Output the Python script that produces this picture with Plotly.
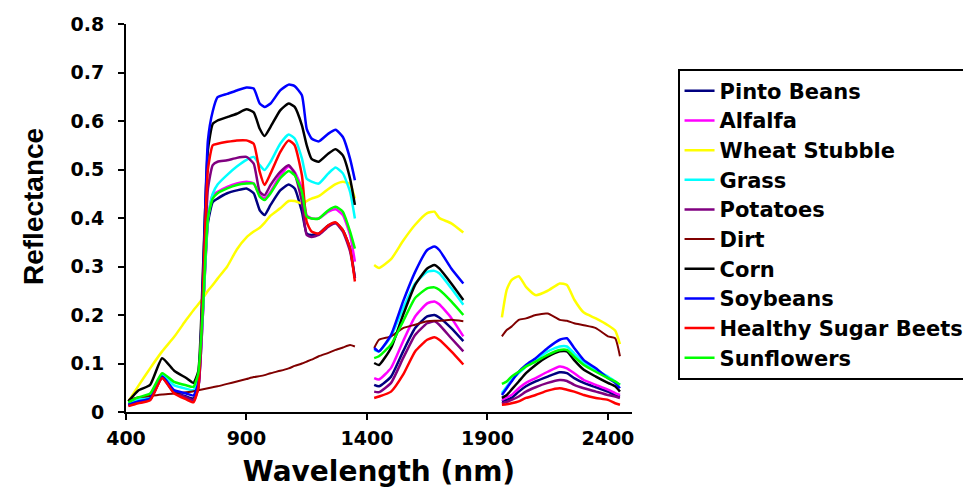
import plotly.graph_objects as go

# wavelength grids (nm) for the three spectral segments
W1 = [410, 450, 500, 550, 600, 650, 680, 700, 720, 740, 760, 780, 820, 860, 900, 930, 955, 975,
      1000, 1040, 1075, 1100, 1130, 1150, 1170, 1200, 1240, 1270, 1300, 1330, 1350]
W2 = [1430, 1450, 1500, 1550, 1600, 1650, 1680, 1700, 1750, 1800]
W3 = [1960, 1980, 2000, 2030, 2060, 2100, 2150, 2200, 2230, 2260, 2300, 2350, 2400, 2430, 2450]

names = ["Pinto Beans", "Alfalfa", "Wheat Stubble", "Grass", "Potatoes", "Dirt", "Corn",
         "Soybeans", "Healthy Sugar Beets", "Sunflowers"]
colors = ["#000080", "#FF00FF", "#FFFF00", "#00FFFF", "#800080", "#800000", "#000000",
          "#0000FF", "#FF0000", "#00FF00"]

pinto_s1 = [0.015, 0.021, 0.027, 0.073, 0.042, 0.032, 0.028, 0.05, 0.21, 0.39, 0.433, 0.440, 0.451, 0.457,
            0.461, 0.451, 0.416, 0.406, 0.427, 0.457, 0.469, 0.461, 0.413, 0.368, 0.365, 0.368, 0.385,
            0.390, 0.375, 0.337, 0.276]
pinto_s2 = [0.056, 0.053, 0.073, 0.125, 0.173, 0.197, 0.200, 0.195, 0.173, 0.146]
pinto_s3 = [0.022, 0.025, 0.029, 0.042, 0.053, 0.063, 0.073, 0.082, 0.080, 0.070, 0.060, 0.051, 0.042,
            0.035, 0.032]

alfalfa_s1 = [0.013, 0.019, 0.025, 0.072, 0.040, 0.028, 0.022, 0.05, 0.21, 0.40, 0.448, 0.454, 0.464, 0.471,
              0.475, 0.471, 0.447, 0.441, 0.454, 0.488, 0.506, 0.495, 0.461, 0.406, 0.399, 0.399, 0.413,
              0.418, 0.406, 0.365, 0.310]
alfalfa_s2 = [0.070, 0.067, 0.091, 0.146, 0.197, 0.224, 0.228, 0.222, 0.194, 0.156]
alfalfa_s3 = [0.025, 0.030, 0.035, 0.049, 0.060, 0.070, 0.083, 0.094, 0.090, 0.080, 0.066, 0.056, 0.046,
              0.039, 0.035]

wheat_s1 = [0.022, 0.053, 0.09, 0.125, 0.155, 0.19, 0.21, 0.222, 0.235, 0.25, 0.262, 0.275, 0.30, 0.335,
            0.36, 0.372, 0.38, 0.39, 0.405, 0.42, 0.435, 0.435, 0.43, 0.435, 0.44, 0.445, 0.46, 0.47,
            0.475, 0.47, 0.44]
wheat_s2 = [0.303, 0.297, 0.315, 0.353, 0.386, 0.410, 0.413, 0.400, 0.389, 0.370]
wheat_s3 = [0.195, 0.252, 0.272, 0.280, 0.258, 0.241, 0.250, 0.265, 0.262, 0.232, 0.205, 0.193, 0.179,
            0.168, 0.14]

grass_s1 = [0.018, 0.025, 0.032, 0.077, 0.055, 0.048, 0.045, 0.07, 0.22, 0.40, 0.45, 0.469, 0.489, 0.506,
            0.520, 0.526, 0.509, 0.499, 0.516, 0.553, 0.572, 0.564, 0.523, 0.481, 0.475, 0.471, 0.492,
            0.504, 0.492, 0.454, 0.399]
grass_s2 = [0.128, 0.125, 0.156, 0.214, 0.265, 0.289, 0.291, 0.286, 0.255, 0.221]
grass_s3 = [0.039, 0.052, 0.066, 0.080, 0.094, 0.107, 0.125, 0.135, 0.135, 0.121, 0.101, 0.087, 0.073,
            0.063, 0.056]

potatoes_s1 = [0.014, 0.020, 0.026, 0.070, 0.040, 0.030, 0.025, 0.05, 0.24, 0.46, 0.509, 0.516, 0.519,
               0.524, 0.526, 0.512, 0.454, 0.447, 0.468, 0.495, 0.509, 0.492, 0.434, 0.365, 0.361, 0.365,
               0.382, 0.389, 0.372, 0.331, 0.276]
potatoes_s2 = [0.042, 0.041, 0.060, 0.111, 0.159, 0.183, 0.187, 0.180, 0.152, 0.125]
potatoes_s3 = [0.018, 0.021, 0.025, 0.032, 0.042, 0.051, 0.060, 0.066, 0.064, 0.056, 0.049, 0.042, 0.035,
               0.032, 0.029]

dirt_s1 = [0.025, 0.030, 0.033, 0.036, 0.038, 0.041, 0.043, 0.045, 0.047, 0.049, 0.051, 0.053, 0.058,
           0.063, 0.068, 0.072, 0.074, 0.076, 0.080, 0.085, 0.090, 0.095, 0.100, 0.104, 0.108, 0.115,
           0.122, 0.128, 0.133, 0.138, 0.135]
dirt_s2 = [0.132, 0.149, 0.156, 0.173, 0.180, 0.187, 0.188, 0.188, 0.190, 0.187]
dirt_s3 = [0.156, 0.169, 0.176, 0.190, 0.193, 0.200, 0.203, 0.190, 0.188, 0.183, 0.179, 0.173, 0.156,
           0.152, 0.115]

corn_s1 = [0.022, 0.044, 0.056, 0.111, 0.085, 0.070, 0.060, 0.084, 0.30, 0.54, 0.594, 0.601, 0.608, 0.615,
           0.624, 0.618, 0.584, 0.569, 0.588, 0.622, 0.636, 0.629, 0.591, 0.550, 0.522, 0.516, 0.533,
           0.542, 0.529, 0.481, 0.427]
corn_s2 = [0.101, 0.097, 0.132, 0.200, 0.262, 0.296, 0.303, 0.296, 0.265, 0.231]
corn_s3 = [0.029, 0.035, 0.046, 0.063, 0.080, 0.097, 0.114, 0.125, 0.125, 0.107, 0.087, 0.073, 0.060,
           0.053, 0.042]

soy_s1 = [0.015, 0.022, 0.028, 0.073, 0.045, 0.038, 0.034, 0.06, 0.28, 0.56, 0.62, 0.649, 0.656, 0.663,
          0.669, 0.667, 0.636, 0.629, 0.636, 0.663, 0.675, 0.672, 0.653, 0.584, 0.564, 0.558, 0.574,
          0.582, 0.567, 0.522, 0.478]
soy_s2 = [0.132, 0.125, 0.159, 0.228, 0.289, 0.334, 0.341, 0.334, 0.296, 0.265]
soy_s3 = [0.035, 0.049, 0.063, 0.083, 0.097, 0.111, 0.132, 0.149, 0.152, 0.132, 0.107, 0.090, 0.070,
          0.060, 0.049]

beets_s1 = [0.012, 0.018, 0.024, 0.070, 0.038, 0.026, 0.020, 0.05, 0.26, 0.50, 0.550, 0.553, 0.557, 0.560,
            0.560, 0.553, 0.495, 0.468, 0.492, 0.536, 0.560, 0.550, 0.488, 0.392, 0.372, 0.368, 0.385,
            0.391, 0.375, 0.337, 0.269]
beets_s2 = [0.029, 0.032, 0.042, 0.077, 0.125, 0.149, 0.154, 0.149, 0.125, 0.098]
beets_s3 = [0.015, 0.016, 0.018, 0.022, 0.029, 0.035, 0.044, 0.049, 0.046, 0.042, 0.035, 0.029, 0.025,
            0.018, 0.015]

sun_s1 = [0.020, 0.030, 0.038, 0.080, 0.062, 0.055, 0.052, 0.08, 0.22, 0.40, 0.440, 0.451, 0.461, 0.468,
          0.471, 0.471, 0.444, 0.437, 0.451, 0.482, 0.497, 0.488, 0.454, 0.403, 0.399, 0.399, 0.416,
          0.423, 0.413, 0.372, 0.337]
sun_s2 = [0.111, 0.115, 0.139, 0.187, 0.235, 0.255, 0.257, 0.252, 0.228, 0.200]
sun_s3 = [0.058, 0.063, 0.073, 0.083, 0.094, 0.104, 0.118, 0.128, 0.128, 0.114, 0.097, 0.083, 0.070,
          0.063, 0.056]

series = [
    (pinto_s1, pinto_s2, pinto_s3),
    (alfalfa_s1, alfalfa_s2, alfalfa_s3),
    (wheat_s1, wheat_s2, wheat_s3),
    (grass_s1, grass_s2, grass_s3),
    (potatoes_s1, potatoes_s2, potatoes_s3),
    (dirt_s1, dirt_s2, dirt_s3),
    (corn_s1, corn_s2, corn_s3),
    (soy_s1, soy_s2, soy_s3),
    (beets_s1, beets_s2, beets_s3),
    (sun_s1, sun_s2, sun_s3),
]

x_all = W1 + [None] + W2 + [None] + W3

fig = go.Figure()
for name, color, (s1, s2, s3) in zip(names, colors, series):
    fig.add_trace(go.Scatter(
        x=x_all, y=s1 + [None] + s2 + [None] + s3,
        mode="lines", connectgaps=False,
        name='<span style="font-size:21px">' + name + '</span>',
        line=dict(color=color, width=2.5 if name != "Dirt" else 2, shape="spline", smoothing=0.5),
    ))

tick_font = dict(family="DejaVu Sans", size=19, color="black", weight="bold")

fig.update_layout(
    width=971, height=490,
    margin=dict(l=118, r=347, t=16, b=86, autoexpand=False),
    paper_bgcolor="white", plot_bgcolor="white",
    showlegend=True,
    legend=dict(
        x=1.09, y=0.884, xanchor="left", yanchor="top",
        bordercolor="black", borderwidth=2, bgcolor="white",
        font=dict(family="DejaVu Sans", size=20.5, color="black", weight="bold"),
        itemwidth=30,
    ),
    xaxis=dict(
        range=[400, 2500], tickvals=[400, 900, 1400, 1900, 2400],
        showgrid=False, zeroline=False, showline=True, linecolor="black", linewidth=2,
        ticks="outside", ticklen=6, tickwidth=2, tickcolor="black",
        tickfont=tick_font, ticklabelstandoff=2,
        title=dict(text="Wavelength (nm)", standoff=14,
                   font=dict(family="DejaVu Sans", size=28, color="black", weight="bold")),
    ),
    yaxis=dict(
        range=[0, 0.8], tickvals=[0, 0.1, 0.2, 0.3, 0.4, 0.5, 0.6, 0.7, 0.8],
        ticktext=["0", "0.1", "0.2", "0.3", "0.4", "0.5", "0.6", "0.7", "0.8"],
        showgrid=False, zeroline=False, showline=True, linecolor="black", linewidth=2,
        ticks="outside", ticklen=6, tickwidth=2, tickcolor="black",
        tickfont=tick_font, ticklabelstandoff=10,
    ),
    annotations=[dict(
        text="Reflectance", textangle=-90, showarrow=False,
        xref="paper", yref="paper", x=-0.1825, y=0.53, xanchor="center", yanchor="middle",
        font=dict(family="Liberation Sans", size=28, color="black", weight="bold"),
    )],
)

fig.write_html("out.html")
